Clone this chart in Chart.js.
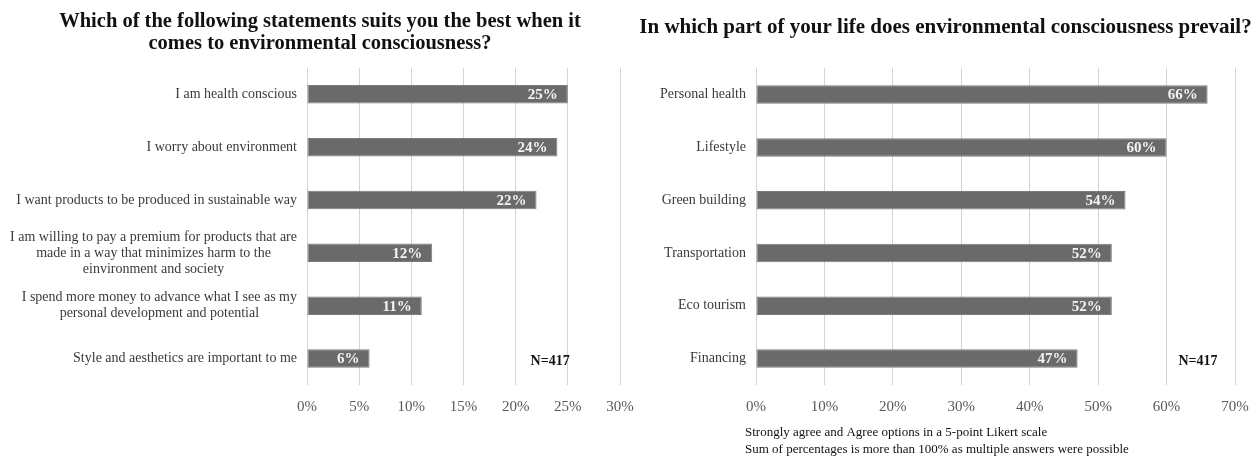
<!DOCTYPE html>
<html>
<head>
<meta charset="utf-8">
<script src="https://cdn.jsdelivr.net/npm/chart.js@4.4.0/dist/chart.umd.min.js"></script>
<style>
    body { margin: 0; background: #fff; overflow: hidden; }
    .panel { position: absolute; top: 0; height: 456px; }
    #left { left: 0; width: 640px; }
    #right { left: 633px; width: 625px; }
</style>
</head>
<body>
<div class="panel" id="left"><canvas id="statementsChart"></canvas></div>
<div class="panel" id="right"><canvas id="lifeChart"></canvas></div>
<script>
var statements = [
    "I am health conscious",
    "I worry about environment",
    "I want products to be produced in sustainable way",
    ["I am willing to pay a premium for products that are", "made in a way that minimizes harm to the", "einvironment and society"],
    ["I spend more money to advance what I see as my", "personal development and potential"],
    "Style and aesthetics are important to me"
];
var statementShares = [25, 24, 22, 12, 11, 6];
var statementTicks = [0, 5, 10, 15, 20, 25, 30];

var lifeAreas = ["Personal health", "Lifestyle", "Green building", "Transportation", "Eco tourism", "Financing"];
var lifeAreaShares = [66, 60, 54, 52, 52, 47];
var lifeTicks = [0, 10, 20, 30, 40, 50, 60, 70];

var sampleNote = "N=417";
var footNotes = [
    "Strongly agree and Agree options in a 5-point Likert scale",
    "Sum of percentages is more than 100% as multiple answers were possible"
];

var SERIF = "'Liberation Serif', 'Times New Roman', serif";
var BAR_GREY = "#6a6a6a";

// category names drawn left of the plot, multi-line ones centred as a block
var categoryLabels = {
    id: 'categoryLabels',
    afterDraw: function (chart, args, opts) {
        var ctx = chart.ctx;
        var yScale = chart.scales.y;
        ctx.save();
        ctx.font = opts.size + "px " + SERIF;
        ctx.fillStyle = "#3a3a3a";
        ctx.textBaseline = "middle";
        ctx.textAlign = "center";
        chart.data.labels.forEach(function (label, i) {
            var lines = [].concat(label);
            var widest = Math.max.apply(null, lines.map(function (l) { return ctx.measureText(l).width; }));
            var cx = chart.chartArea.left - opts.gap - widest / 2;
            var cy = yScale.getPixelForValue(i);
            lines.forEach(function (line, j) {
                ctx.fillText(line, cx, cy + (j - (lines.length - 1) / 2) * opts.lineHeight);
            });
        });
        ctx.restore();
    }
};

// percentage inside the end of each bar, plus the sample size note and footer
var barValues = {
    id: 'barValues',
    afterDatasetsDraw: function (chart, args, opts) {
        var ctx = chart.ctx;
        var meta = chart.getDatasetMeta(0);
        var values = chart.data.datasets[0].data;
        ctx.save();
        ctx.font = "bold 15px " + SERIF;
        ctx.fillStyle = "#f4f4f4";
        ctx.textAlign = "right";
        ctx.textBaseline = "middle";
        meta.data.forEach(function (bar, i) {
            ctx.fillText(values[i] + "%", bar.x - 10, bar.y + 1);
        });
        ctx.font = "bold 14px " + SERIF;
        ctx.fillStyle = "#111";
        ctx.textAlign = "center";
        ctx.fillText(sampleNote, chart.scales.x.getPixelForValue(opts.noteAt), chart.scales.y.getPixelForValue(values.length - 1) + 3);
        if (opts.footer) {
            ctx.font = "13px " + SERIF;
            ctx.textAlign = "left";
            opts.footer.forEach(function (line, i) {
                ctx.fillText(line, chart.chartArea.left - 11, chart.height - 23 + i * 17);
            });
        }
        ctx.restore();
    }
};

// labelWidth / rightWidth reserve the margins as axis boxes so the title keeps the full width
function makeChart(id, labels, values, ticks, title, titleFont, titlePadding, labelWidth, rightWidth, noteAt, footer) {
    return new Chart(document.getElementById(id), {
        type: 'bar',
        data: {
            labels: labels,
            datasets: [{
                data: values,
                backgroundColor: BAR_GREY,
                borderColor: "#7c7c7c",
                borderWidth: 1,
                borderSkipped: false,
                barPercentage: 0.35,
                categoryPercentage: 1
            }]
        },
        options: {
            indexAxis: 'y',
            responsive: true,
            maintainAspectRatio: false,
            animation: false,
            layout: { padding: { left: 0, right: 0, top: 0, bottom: 26 } },
            scales: {
                x: {
                    min: ticks[0],
                    max: ticks[ticks.length - 1],
                    afterBuildTicks: function (scale) {
                        scale.ticks = ticks.map(function (v) { return { value: v }; });
                    },
                    afterFit: function (scale) {
                        scale.paddingLeft = 0;
                        scale.paddingRight = 0;
                    },
                    grid: { color: "#d3d3d3", lineWidth: 1, drawTicks: false },
                    border: { display: false },
                    ticks: {
                        padding: 13.5,
                        color: "#595959",
                        font: { family: SERIF, size: 15 },
                        callback: function (v) { return v + "%"; }
                    }
                },
                y: {
                    grid: { display: false },
                    border: { display: false },
                    ticks: { display: false },
                    afterFit: function (scale) { scale.width = labelWidth; }
                },
                margin: {
                    type: 'linear',
                    position: 'right',
                    grid: { display: false },
                    border: { display: false },
                    ticks: { display: false },
                    afterFit: function (scale) { scale.width = rightWidth; }
                }
            },
            plugins: {
                legend: { display: false },
                tooltip: { enabled: false },
                title: {
                    display: true,
                    text: title,
                    color: "#111",
                    font: titleFont,
                    padding: titlePadding
                },
                categoryLabels: { size: 14, gap: 10, lineHeight: 16 },
                barValues: { noteAt: noteAt, footer: footer }
            }
        },
        plugins: [categoryLabels, barValues]
    });
}

makeChart('statementsChart', statements, statementShares, statementTicks,
    ["Which of the following statements suits you the best when it", "comes to environmental consciousness?"],
    { family: SERIF, size: 20.5, weight: 'bold', lineHeight: 1.07 },
    { top: 11, bottom: 13 },
    307, 20, 23.3, null);

makeChart('lifeChart', lifeAreas, lifeAreaShares, lifeTicks,
    "In which part of your life does environmental consciousness prevail?",
    { family: SERIF, size: 21, weight: 'bold', lineHeight: 1.2 },
    { top: 15, bottom: 28 },
    123, 23, 64.6, footNotes);
</script>
</body>
</html>
